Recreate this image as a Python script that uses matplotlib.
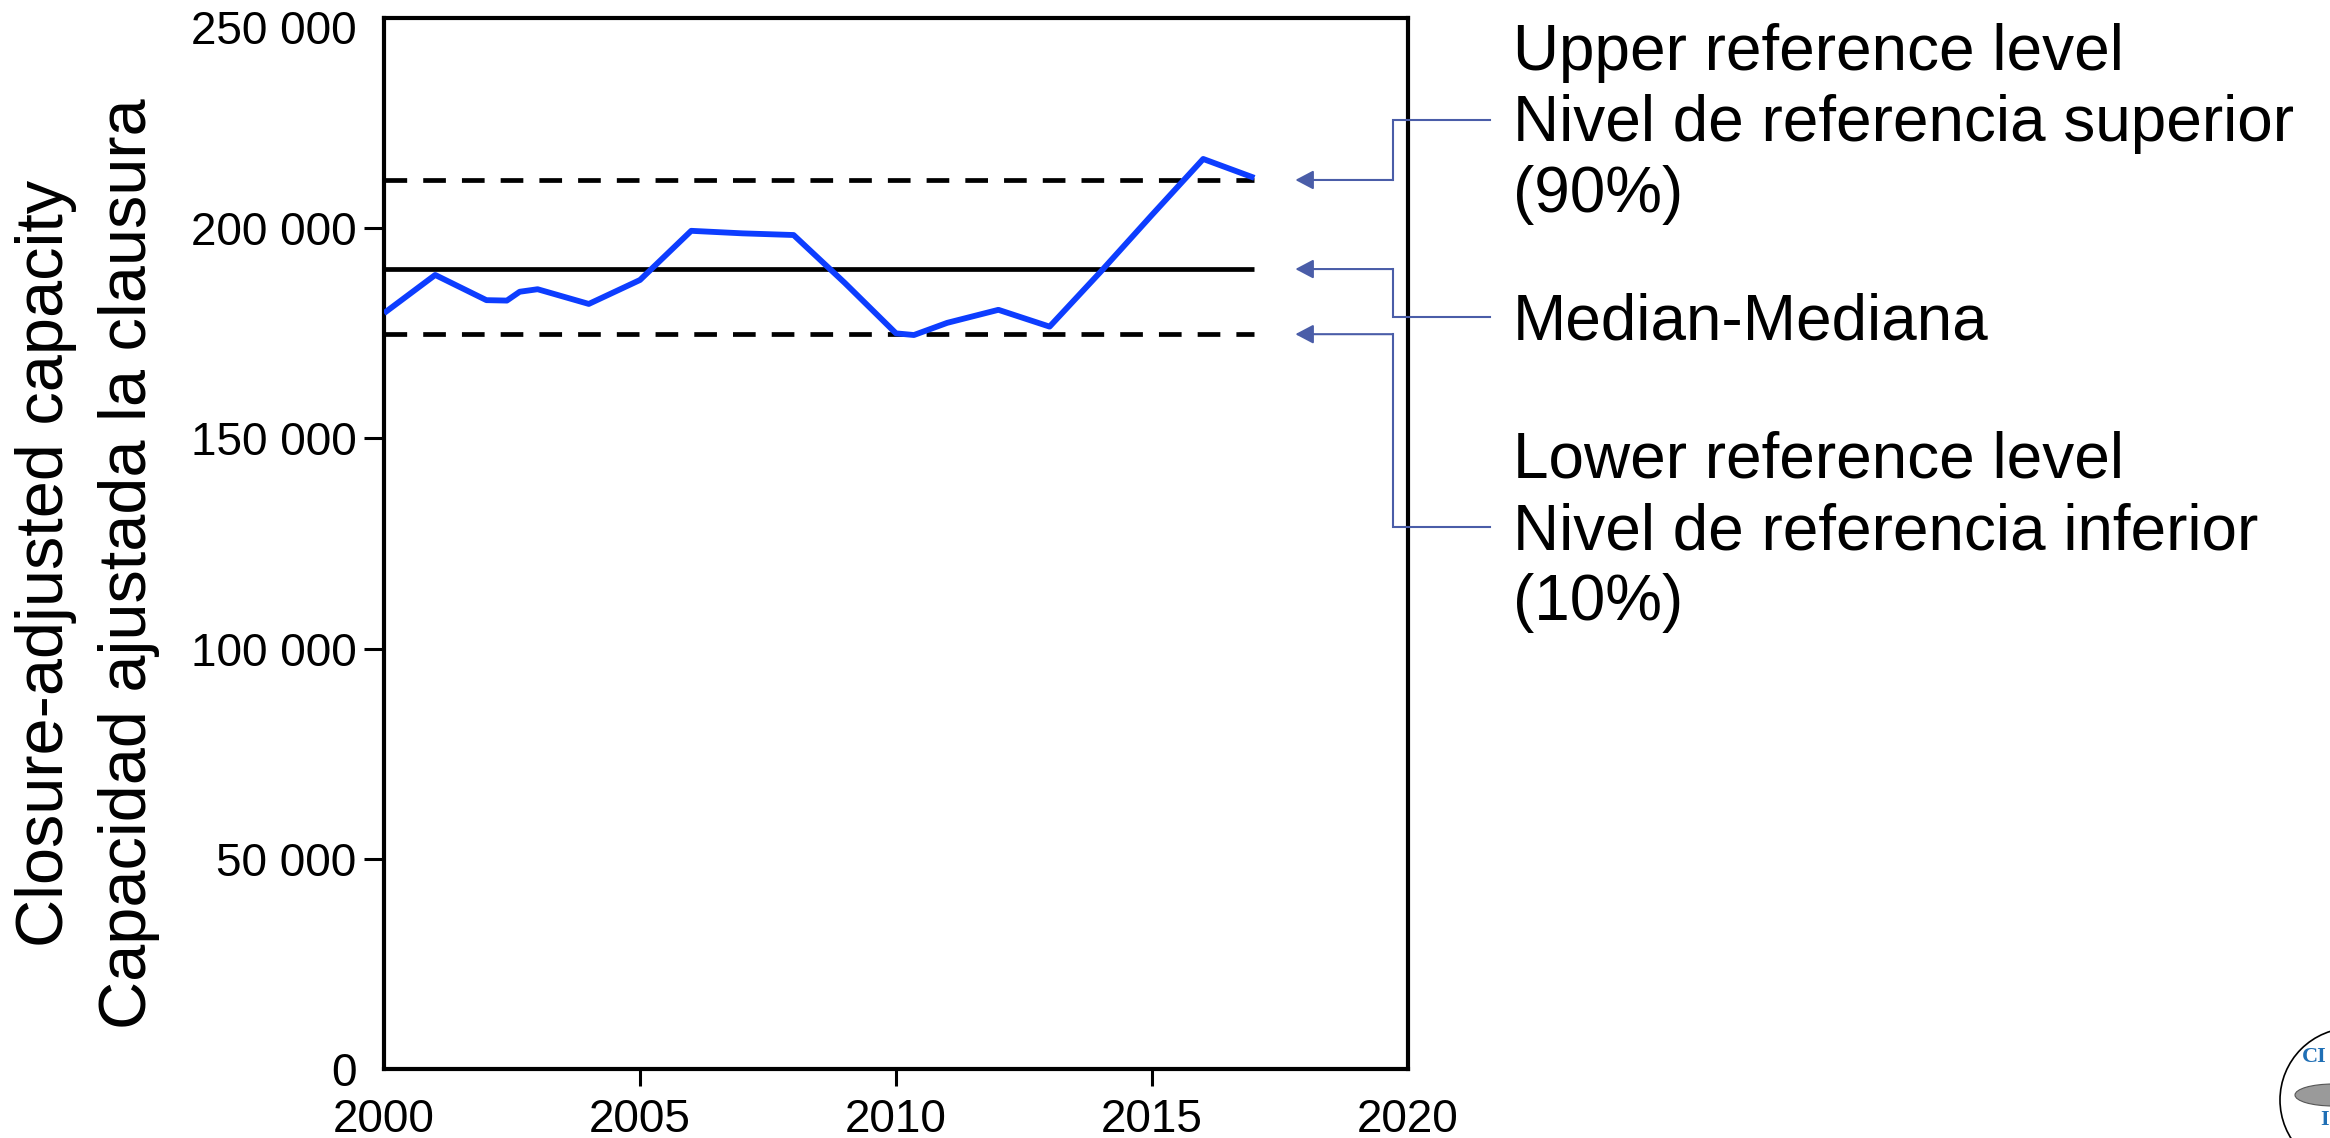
import matplotlib
matplotlib.use("Agg")
import matplotlib.pyplot as plt
import matplotlib.patches as mpatches
import matplotlib.transforms as mtrans
from matplotlib.lines import Line2D
from matplotlib.ticker import FuncFormatter, FixedLocator

# ---------------- data ----------------
years = [2000, 2001, 2002, 2002.4, 2002.65, 2003, 2004, 2005, 2006, 2007, 2008,
         2009, 2010, 2010.35, 2011, 2012, 2013, 2014, 2015, 2016, 2017]
capacity = [179800, 188900, 182900, 182800, 184900, 185500, 182000, 187700,
            199400, 198800, 198400, 187000, 175000, 174600, 177500, 180600,
            176600, 189700, 203200, 216500, 212000]

ref_years = [2000, 2017]
upper_ref = 211500
median_ref = 190300
lower_ref = 174800

x_ticks = [2000, 2005, 2010, 2015, 2020]
y_ticks = [0, 50000, 100000, 150000, 200000, 250000]

ylabel_en = "Closure-adjusted capacity"
ylabel_es = "Capacidad ajustada la clausura"
upper_lines = ["Upper reference level", "Nivel de referencia superior", "(90%)"]
median_lines = ["Median-Mediana"]
lower_lines = ["Lower reference level", "Nivel de referencia inferior", "(10%)"]

# ---------------- figure ----------------
W, H = 2330, 1138
DPI = 100
plt.rcParams['font.family'] = ['Liberation Sans', 'DejaVu Sans']
fig = plt.figure(figsize=(W / DPI, H / DPI), dpi=DPI)


def fx(x):
    return x / W


def fy(y):
    return 1 - y / H


ax_left, ax_right, ax_top, ax_bottom = 384, 1408, 18.2, 1068.7
ax = fig.add_axes([fx(ax_left), fy(ax_bottom), (ax_right - ax_left) / W,
                   (ax_bottom - ax_top) / H])

ax.set_xlim(2000, 2020)
ax.set_ylim(0, 250000)

lw_ref = 3.4
dash = (0, (4.8, 3.4))
ax.plot(ref_years, [upper_ref] * 2, color='black', lw=lw_ref,
        linestyle=dash, dash_capstyle='butt', zorder=2)
ax.plot(ref_years, [lower_ref] * 2, color='black', lw=lw_ref,
        linestyle=dash, dash_capstyle='butt', zorder=2)
ax.plot(ref_years, [median_ref] * 2, color='black', lw=3.4,
        solid_capstyle='butt', zorder=2)
ax.plot(ref_years[:1], [median_ref], alpha=0)  # keep autoscale untouched
ax.plot(years, capacity, color='#0D3DFF', lw=4.2, zorder=3,
        solid_joinstyle='round', solid_capstyle='butt')

for s in ax.spines.values():
    s.set_linewidth(3.0)
    s.set_color('black')

ax.xaxis.set_major_locator(FixedLocator(x_ticks))
ax.yaxis.set_major_locator(FixedLocator(y_ticks))
ax.yaxis.set_major_formatter(FuncFormatter(lambda v, p: f"{int(v):,}".replace(',', ' ')))
ax.xaxis.set_major_formatter(FuncFormatter(lambda v, p: f"{int(v)}"))
ax.tick_params(axis='y', direction='out', length=14.4, width=2.2, pad=5.5,
               labelsize=33, colors='black')
ax.tick_params(axis='x', direction='out', length=12, width=2.2, pad=9,
               labelsize=33, colors='black')

fig.canvas.draw()
# hide the tick marks at the ends of the axes
for t in (ax.xaxis.get_major_ticks()[0], ax.xaxis.get_major_ticks()[-1],
          ax.yaxis.get_major_ticks()[0], ax.yaxis.get_major_ticks()[-1]):
    t.tick1line.set_visible(False)
# shift top y label slightly down
top_lab = ax.get_yticklabels()[-1]
top_lab.set_transform(top_lab.get_transform() +
                      mtrans.ScaledTranslation(0, -9 / DPI, fig.dpi_scale_trans))

# ---------------- y axis label (two lines) ----------------
fig.text(fx(63), fy(563), ylabel_en, rotation=90, rotation_mode='anchor',
         ha='center', va='baseline', fontsize=48, color='black')
fig.text(fx(146), fy(564), ylabel_es, rotation=90, rotation_mode='anchor',
         ha='center', va='baseline', fontsize=48, color='black')

# ---------------- right-hand annotations ----------------
text_x = 1513
line_h = 71
groups = [
    (upper_lines, 141, 1, upper_ref, 120),
    (median_lines, 339, 0, median_ref, 317),
    (lower_lines, 549, 1, lower_ref, 527),
]
arrow_col = '#4A5DA8'
elbow_x = 1393
conn_end = 1490
tip_year = 2017.8
inv = fig.transFigure.inverted()
for lines, base_anchor, anchor_idx, val, conn_y in groups:
    for i, txt in enumerate(lines):
        yb = base_anchor + (i - anchor_idx) * line_h
        fig.text(fx(text_x), fy(yb), txt, ha='left', va='baseline',
                 fontsize=46, color='black')
    tip = inv.transform(ax.transData.transform((tip_year, val)))
    fig.add_artist(Line2D([fx(conn_end), fx(elbow_x), fx(elbow_x)],
                          [fy(conn_y), fy(conn_y), tip[1]],
                          transform=fig.transFigure, color=arrow_col, lw=1.5,
                          solid_joinstyle='miter'))
    fig.add_artist(mpatches.FancyArrowPatch(
        (fx(elbow_x), tip[1]), (tip[0], tip[1]), transform=fig.transFigure,
        arrowstyle='-|>,head_length=11,head_width=5.8', mutation_scale=1,
        color=arrow_col, lw=1.5, shrinkA=0, shrinkB=0))

# ---------------- logo (partially cut at the corner) ----------------
r = 72
cx, cy = 2352, 1100
fig.add_artist(mpatches.Ellipse((fx(cx), fy(cy)), 2 * r / W, 2 * r / H,
                                transform=fig.transFigure, facecolor='white',
                                edgecolor='black', lw=1.2))
fig.add_artist(mpatches.Ellipse((fx(2333), fy(1095)), 76 / W, 22 / H,
                                transform=fig.transFigure, facecolor='#9a9a9a',
                                edgecolor='#555555', lw=0.8))
fig.text(fx(2302), fy(1057), "CI", fontsize=16, fontweight='bold',
         family='Liberation Serif', color='#1F6FB5', ha='left', va='center')
fig.text(fx(2320), fy(1120), "I", fontsize=16, fontweight='bold',
         family='Liberation Serif', color='#1F6FB5', ha='left', va='center')

fig.savefig("out.png", dpi=DPI)
